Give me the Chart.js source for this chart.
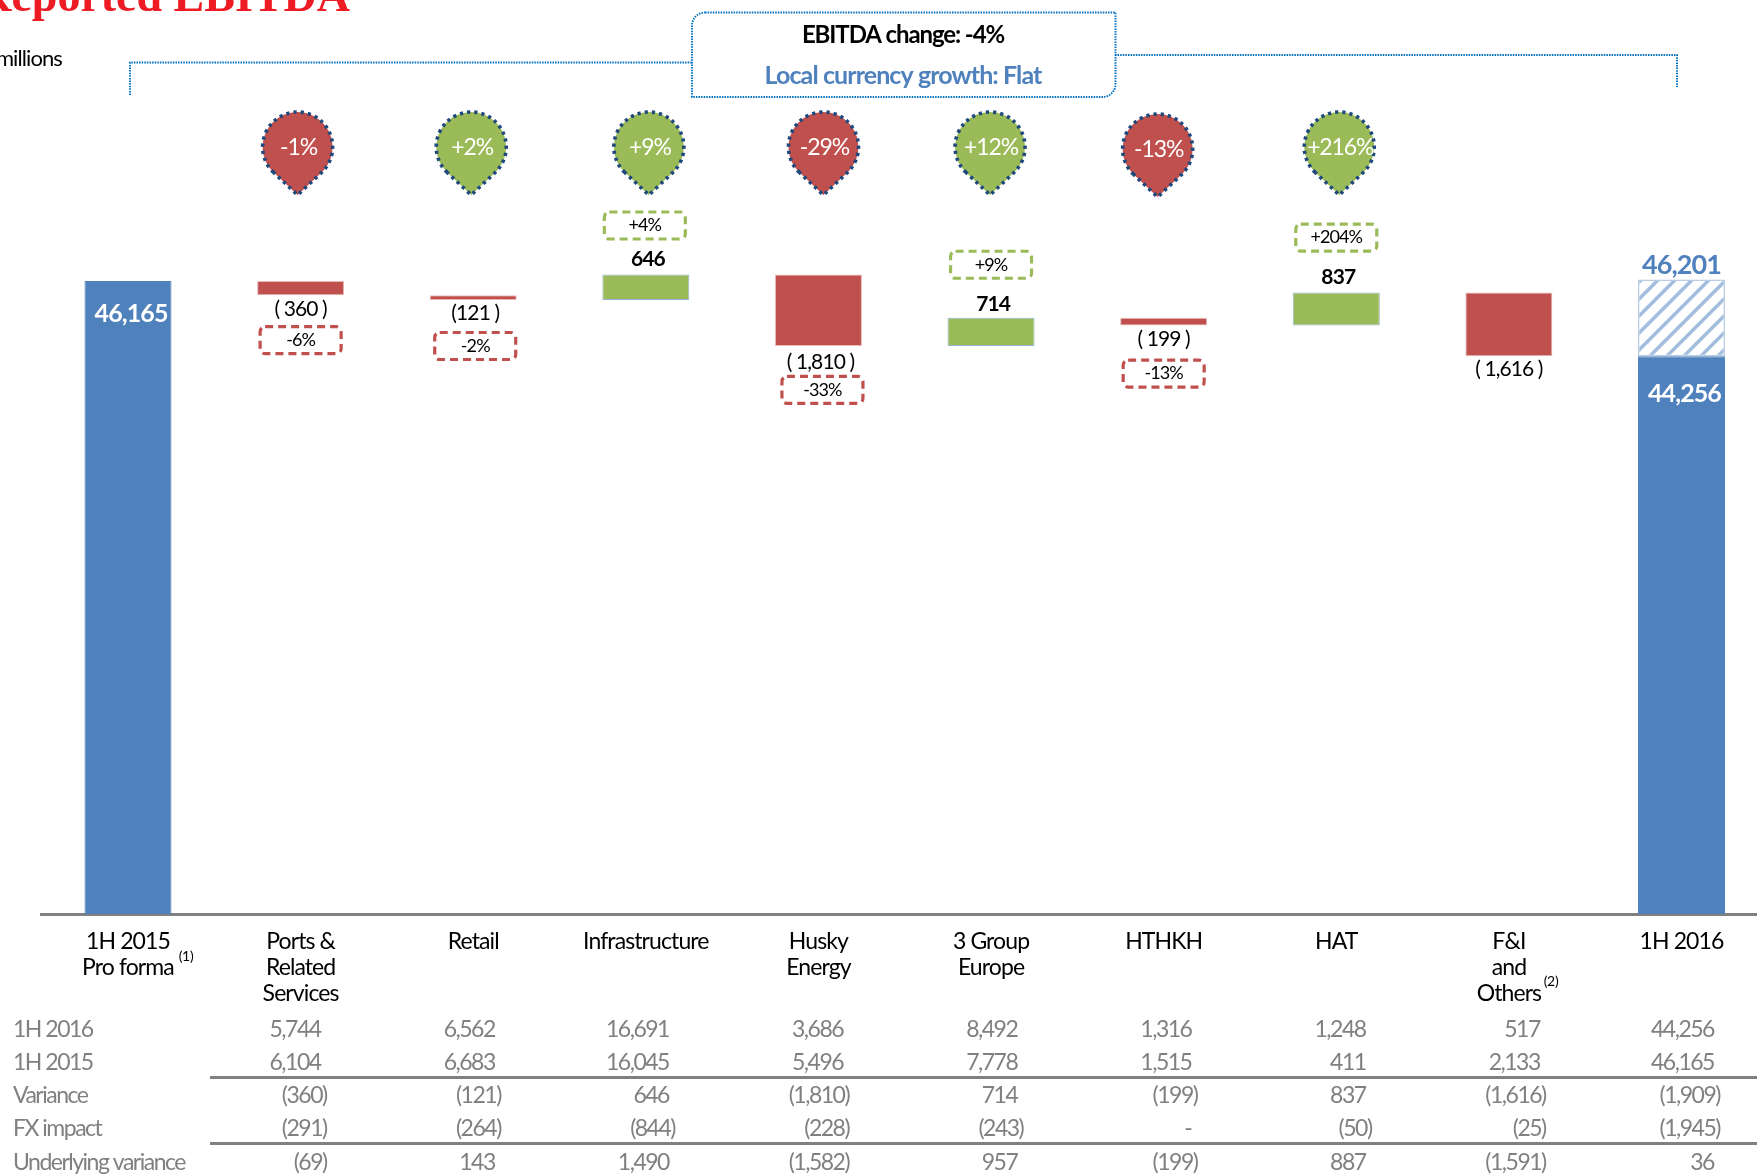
<!DOCTYPE html>
<html><head><meta charset="utf-8">
<style>html,body{margin:0;padding:0;background:#fff;overflow:hidden}#wrap{position:relative;width:1757px;height:1176px;overflow:hidden}canvas{display:block}</style>
<script src="https://cdn.jsdelivr.net/npm/chart.js@4/dist/chart.umd.js"></script>
</head><body><div id="wrap"><canvas id="c" width="1800" height="1176" style="width:1800px;height:1176px"></canvas></div>
<script>
const categories=[["1H 2015","Pro forma"],["Ports &","Related","Services"],"Retail","Infrastructure",["Husky","Energy"],["3 Group","Europe"],"HTHKH","HAT",["F&I","and","Others"],"1H 2016"];
const barStart=[0,46165,45805,45684,46330,44520,45234,45035,45872,0];
const barEnd=[46165,45805,45684,46330,44520,45234,45035,45872,44256,44256];
const hatchStart=[null,null,null,null,null,null,null,null,null,44256];
const hatchEnd=[null,null,null,null,null,null,null,null,null,46201];
const barKinds=["total","down","down","up","down","up","down","up","down","total"];
const varianceLabels=[null,"( 360 )","(121 )","646","( 1,810 )","714","( 199 )","837","( 1,616 )",null];
const boxLabels=[null,"-6%","-2%","+4%","-33%","+9%","-13%","+204%",null,null];
const pinLabels=[null,"-1%","+2%","+9%","-29%","+12%","-13%","+216%",null,null];
const rowLabels=["1H 2016","1H 2015","Variance","FX impact","Underlying variance"];
const row2016=["5,744","6,562","16,691","3,686","8,492","1,316","1,248","517","44,256"];
const row2015=["6,104","6,683","16,045","5,496","7,778","1,515","411","2,133","46,165"];
const rowVariance=["(360)","(121)","646","(1,810)","714","(199)","837","(1,616)","(1,909)"];
const rowFx=["(291)","(264)","(844)","(228)","(243)","-","(50)","(25)","(1,945)"];
const rowUnderlying=["(69)","143","1,490","(1,582)","957","(199)","887","(1,591)","36"];
const total2015Label="46,165", total2016Label="44,256", constantFxLabel="46,201";

const BLUE="#4F81BD",RED="#C0504D",GREEN="#9BBB59",GREY="#808080",NAVY="#1F497D",DOT="#0070C0";
const FONT='Lato,"Liberation Sans",sans-serif';
const kindFill={total:BLUE,down:RED,up:GREEN};
const kindEdge={total:BLUE,down:"#E6B9B8",up:"#95B3D7"};

// drawing nudges, in pixels (not data)
const pinDx=[0,-3,-2,3,5,-1,-6,3,0,0], pinDy=[0,0,0,0,0,0,2,0,0,0];
const boxDx=[0,0,2,-1,4,0,0,0,0,0], boxGap=[0,45,46,49,44,53,48,55,0,0];
const labelDx=[0,0,2,2,2,2,0,2,0,0], labelGap=[0,14,13,15,16,14,14,15,13,0];

function hatch(){
  const s=17,p=document.createElement('canvas');p.width=s;p.height=s;
  const g=p.getContext('2d');g.fillStyle="#fff";g.fillRect(0,0,s,s);
  g.strokeStyle="#A3BEDD";g.lineWidth=3.6;
  [[-s,s,s,-s],[0,s,s,0],[0,2*s,2*s,0]].forEach(l=>{g.beginPath();g.moveTo(l[0],l[1]);g.lineTo(l[2],l[3]);g.stroke();});
  return g.createPattern(p,'repeat');
}
function txt(ctx,t,x,y,font,color,align,sp){ctx.font=font;ctx.letterSpacing=(sp===undefined?-0.9:sp)+'px';ctx.fillStyle=color;ctx.textAlign=align||'center';ctx.textBaseline='middle';ctx.fillText(t,x,y);}
function dotted(ctx,w){ctx.strokeStyle=DOT;ctx.lineWidth=w||1.9;ctx.setLineDash([1.5,1.1]);}

const overlay={id:'overlay',
beforeDraw(chart){chart.ctx.letterSpacing='-0.9px';},
afterDatasetsDraw(chart){
  const ctx=chart.ctx,xs=chart.scales.x,ys=chart.scales.y;ctx.save();
  const cx=i=>xs.getPixelForValue(i);
  // title and unit
  ctx.letterSpacing='0px';
  ctx.font='bold 46px "Liberation Serif",serif';ctx.fillStyle="#ED1C24";ctx.textAlign='right';ctx.textBaseline='alphabetic';ctx.fillText("Reported EBITDA",350,11);
  txt(ctx,"HK$ millions",62,59,'22px '+FONT,'#000','right');
  // bracket and callout
  dotted(ctx);
  ctx.beginPath();ctx.moveTo(130,95);ctx.lineTo(130,62.5);ctx.lineTo(692,62.5);ctx.stroke();
  ctx.beginPath();ctx.moveTo(1115,55);ctx.lineTo(1677,55);ctx.lineTo(1677,87);ctx.stroke();
  ctx.beginPath();ctx.moveTo(705,12.5);ctx.lineTo(1115.5,12.5);ctx.lineTo(1115.5,84);ctx.arcTo(1115.5,97,1102,97,13);ctx.lineTo(692,97);ctx.lineTo(692,26);ctx.arcTo(692,12.5,705,12.5,13);ctx.closePath();ctx.stroke();
  ctx.setLineDash([]);
  txt(ctx,"EBITDA change: -4%",903,35.5,'bold 24px '+FONT,'#000','center',-1.1);
  txt(ctx,"Local currency growth: Flat",903,76,'bold 25px '+FONT,BLUE);
  // pins
  categories.forEach((_,i)=>{
    if(!pinLabels[i])return;
    const x=cx(i)+pinDx[i],y=147+pinDy[i],r=35,d=48,a=Math.acos(r/d);
    ctx.beginPath();ctx.arc(x,y,r,Math.PI/2+a,Math.PI/2-a);ctx.lineTo(x,y+d);ctx.closePath();
    ctx.fillStyle=pinLabels[i][0]==='-'?RED:GREEN;ctx.fill();
    ctx.strokeStyle=NAVY;ctx.lineWidth=3.6;ctx.setLineDash([3.2,4]);ctx.stroke();ctx.setLineDash([]);
    txt(ctx,pinLabels[i],x+1,y+1,'23px '+FONT,'#fff','center',-1.1);
  });
  // variance labels and dashed boxes
  categories.forEach((_,i)=>{
    if(!varianceLabels[i])return;
    const up=barKinds[i]==='up',top=ys.getPixelForValue(Math.max(barStart[i],barEnd[i])),low=ys.getPixelForValue(Math.min(barStart[i],barEnd[i]));
    txt(ctx,varianceLabels[i],cx(i)+labelDx[i],up?top-labelGap[i]:low+labelGap[i],(up?'bold ':'')+'21px '+FONT,'#000');
    if(!boxLabels[i])return;
    const bx=cx(i)+boxDx[i],by=up?top-boxGap[i]:low+boxGap[i];
    ctx.beginPath();ctx.roundRect(bx-40.5,by-13.5,81,27,5);
    ctx.fillStyle='#fff';ctx.fill();ctx.strokeStyle=up?GREEN:RED;ctx.lineWidth=3.2;ctx.setLineDash([8,5]);ctx.stroke();ctx.setLineDash([]);
    txt(ctx,boxLabels[i],bx,by,'18px '+FONT,'#000');
  });
  // totals
  txt(ctx,total2015Label,cx(0)+3,314,'bold 25px '+FONT,'#fff');
  txt(ctx,total2016Label,cx(9)+3,394,'bold 25px '+FONT,'#fff');
  txt(ctx,constantFxLabel,cx(9),265.5,'bold 27px '+FONT,BLUE);
  // superscripts
  txt(ctx,"(1)",186,956,'14px '+FONT,'#000','center',-0.3);
  txt(ctx,"(2)",1551,981.5,'14px '+FONT,'#000','center',-0.3);
  // table
  const rows=[row2016,row2015,rowVariance,rowFx,rowUnderlying],ry=[1030,1063,1095.5,1128.5,1163];
  rows.forEach((row,r)=>{
    txt(ctx,rowLabels[r],13,ry[r],'23px '+FONT,GREY,'left',-1.5);
    row.forEach((v,i)=>{
      const right=cx(i+1)+20+i*1.55;
      txt(ctx,v,right+(v[0]==='('?6:0),ry[r],'23px '+FONT,GREY,'right',-1.5);
    });
  });
  ctx.fillStyle=GREY;ctx.fillRect(210,1076,1547,3);ctx.fillRect(210,1142,1547,3);
  ctx.restore();
}};

new Chart(document.getElementById('c'),{
  type:'bar',
  data:{labels:categories,datasets:[
    {data:barStart.map((s,i)=>[s,barEnd[i]]),backgroundColor:barKinds.map(k=>kindFill[k]),borderColor:barKinds.map(k=>kindEdge[k]),borderWidth:1,borderSkipped:false,grouped:false,barPercentage:0.504,categoryPercentage:1},
    {data:hatchStart.map((s,i)=>s===null?null:[s,hatchEnd[i]]),backgroundColor:hatch(),borderColor:"#B8CCE4",borderWidth:1.5,borderSkipped:false,grouped:false,barPercentage:0.504,categoryPercentage:1}
  ]},
  options:{responsive:false,animation:false,
    layout:{padding:{left:41.7,right:32.2,top:100,bottom:0}},
    plugins:{legend:{display:false},tooltip:{enabled:false}},
    scales:{
      x:{grid:{display:false,drawTicks:false},border:{display:true,color:GREY,width:3},
        ticks:{autoSkip:false,maxRotation:0,minRotation:0,padding:15,color:'#000',font:{family:FONT,size:23,lineHeight:'25.7px'}},
        afterFit(s){s.height=262;}},
      y:{display:false,min:30124,max:50752}
    }},
  plugins:[overlay]
});
</script></body></html>
